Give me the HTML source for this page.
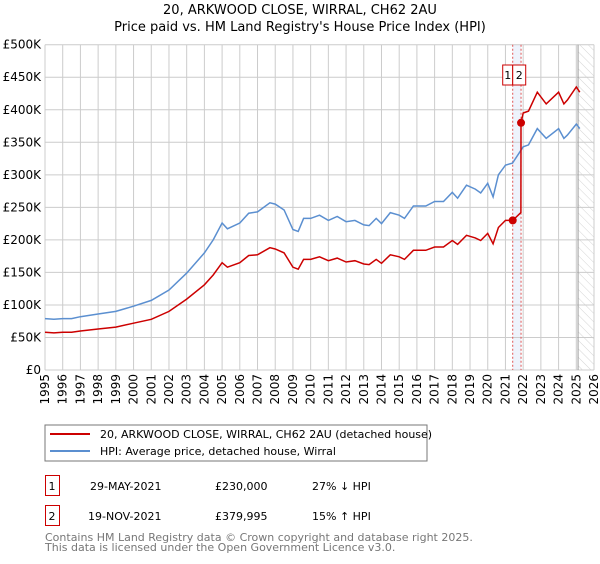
<!DOCTYPE html>
<html><head><meta charset="utf-8"><style>
body{margin:0;background:#fff;font-family:"DejaVu Sans","Liberation Sans",sans-serif;}
svg text{font-family:"DejaVu Sans","Liberation Sans",sans-serif;}
</style></head><body>
<svg id="c" width="600" height="560" viewBox="0 0 600 560" xmlns="http://www.w3.org/2000/svg">
<defs><pattern id="hatch" width="6" height="6" patternUnits="userSpaceOnUse" patternTransform="rotate(-45)"><line x1="0" y1="0" x2="0" y2="6" stroke="#d4d4d4" stroke-width="1"/></pattern></defs>
<text x="300" y="14" text-anchor="middle" font-size="13">20, ARKWOOD CLOSE, WIRRAL, CH62 2AU</text>
<text x="300" y="31" text-anchor="middle" font-size="13">Price paid vs. HM Land Registry's House Price Index (HPI)</text>
<g id="grid"></g><g id="series"></g>
<rect x="45" y="425" width="382" height="36" fill="none" stroke="#777"/>
<line x1="50" y1="434" x2="90" y2="434" stroke="#cc0000" stroke-width="2"/>
<text x="100" y="438" font-size="11">20, ARKWOOD CLOSE, WIRRAL, CH62 2AU (detached house)</text>
<line x1="50" y1="451" x2="90" y2="451" stroke="#5b8fd0" stroke-width="2"/>
<text x="100" y="455" font-size="11">HPI: Average price, detached house, Wirral</text>
<g>
<rect x="45.5" y="475.5" width="14" height="20" fill="none" stroke="#cc0000"/><text x="52" y="490" font-size="11" text-anchor="middle">1</text>
<text x="90" y="490" font-size="11">29-MAY-2021</text><text x="215" y="490" font-size="11">£230,000</text><text x="312" y="490" font-size="11">27% ↓ HPI</text></g>
<g>
<rect x="45.5" y="505.5" width="14" height="20" fill="none" stroke="#cc0000"/><text x="52" y="520" font-size="11" text-anchor="middle">2</text>
<text x="88" y="520" font-size="11">19-NOV-2021</text><text x="215" y="520" font-size="11">£379,995</text><text x="312" y="520" font-size="11">15% ↑ HPI</text></g>
<text x="45" y="541" font-size="11" fill="#777">Contains HM Land Registry data © Crown copyright and database right 2025.</text>
<text x="45" y="551" font-size="11" fill="#777">This data is licensed under the Open Government Licence v3.0.</text>
</svg>
<script>
const hpiYears=[1995,1995.5,1996,1996.5,1997,1998,1999,2000,2001,2002,2003,2004,2004.5,2005,2005.3,2006,2006.5,2007,2007.7,2008,2008.5,2009,2009.3,2009.6,2010,2010.5,2011,2011.5,2012,2012.5,2013,2013.3,2013.7,2014,2014.5,2015,2015.3,2015.8,2016.5,2017,2017.5,2018,2018.3,2018.8,2019.3,2019.6,2020,2020.3,2020.6,2021,2021.4,2022,2022.3,2022.8,2023.3,2024,2024.3,2024.5,2025,2025.2];
const hpiValues=[79,78,79,79,82,86,90,98,107,123,149,180,200,226,217,226,241,243,257,255,246,216,213,233,233,238,230,236,228,230,223,222,233,225,242,238,233,252,252,259,259,273,264,284,278,272,287,266,300,315,318,343,346,371,356,371,356,361,378,371];
const priceYears=[1995,1995.5,1996,1996.5,1997,1998,1999,2000,2001,2002,2003,2004,2004.5,2005,2005.3,2006,2006.5,2007,2007.7,2008,2008.5,2009,2009.3,2009.6,2010,2010.5,2011,2011.5,2012,2012.5,2013,2013.3,2013.7,2014,2014.5,2015,2015.3,2015.8,2016.5,2017,2017.5,2018,2018.3,2018.8,2019.3,2019.6,2020,2020.3,2020.6,2021,2021.41,2021.87,2021.88,2022,2022.3,2022.8,2023.3,2024,2024.3,2024.5,2025,2025.2];
const priceValues=[58,57,58,58,60,63,66,72,78,90,109,131,146,165,158,165,176,177,188,186,180,158,155,170,170,174,168,172,166,168,163,162,170,164,177,174,170,184,184,189,189,199,193,207,203,199,210,194,219,230,230,242,380,395,398,427,409,427,409,415,435,427];
const saleYears=[2021.41,2021.88];
const saleValues=[230,380];
const saleLabels=["1","2"];
const yTicks=[0,50,100,150,200,250,300,350,400,450,500];
const yTickLabels=["£0","£50K","£100K","£150K","£200K","£250K","£300K","£350K","£400K","£450K","£500K"];
const xTicks=[1995,1996,1997,1998,1999,2000,2001,2002,2003,2004,2005,2006,2007,2008,2009,2010,2011,2012,2013,2014,2015,2016,2017,2018,2019,2020,2021,2022,2023,2024,2025,2026];

const NS="http://www.w3.org/2000/svg";
const L=45,R=594,T=44.7,B=370,X0=1995,X1=2026,YMAX=500;
const xs=y=>L+(y-X0)/(X1-X0)*(R-L);
const ys=v=>B-v/YMAX*(B-T);
function mk(tag,attrs,parent){const e=document.createElementNS(NS,tag);for(const k in attrs)e.setAttribute(k,attrs[k]);parent.appendChild(e);return e;}
const g=document.getElementById('grid'),s=document.getElementById('series');
let band=mk('rect',{x:xs(saleYears[0]),y:T,width:xs(saleYears[1])-xs(saleYears[0]),height:B-T,fill:'#eef3fc'},g);


let hat=mk('rect',{x:xs(2025.1),y:T,width:R-xs(2025.1),height:B-T,fill:'url(#hatch)'},g);


yTicks.forEach((v,i)=>{
 let ln=mk('line',{x1:L,x2:R,y1:ys(v),y2:ys(v),stroke:'#ccc'},g);
 
 
 let t=mk('text',{x:L-4,y:ys(v)+4,'text-anchor':'end','font-size':'12'},g);
 t.textContent=yTickLabels[i];
 
 
});
xTicks.forEach(yr=>{
 let ln=mk('line',{x1:xs(yr),x2:xs(yr),y1:T,y2:B,stroke:'#ccc'},g);
 
 
 let t=mk('text',{x:0,y:0,'text-anchor':'end','font-size':'12',transform:`translate(${xs(yr)+4},${B+4}) rotate(-90)`},g);
 t.textContent=yr;
 
 
});
let nl=mk('line',{x1:xs(2025.1),x2:xs(2025.1),y1:T,y2:B,stroke:'#999','stroke-width':1},g);


saleYears.forEach(yr=>{
 let d=mk('line',{x1:xs(yr),x2:xs(yr),y1:T,y2:B,stroke:'#e05555','stroke-dasharray':'2,2'},g);
 
 
});
function path(xa,va){return xa.map((x,i)=>(i?'L':'M')+xs(x).toFixed(1)+','+ys(va[i]).toFixed(1)).join('');}
let hp=mk('path',{d:path(hpiYears,hpiValues),fill:'none',stroke:'#5b8fd0','stroke-width':1.5},s);


let pp=mk('path',{d:path(priceYears,priceValues),fill:'none',stroke:'#cc0000','stroke-width':1.5},s);


saleYears.forEach((yr,i)=>{
 let c=mk('circle',{cx:xs(yr),cy:ys(saleValues[i]),r:4,fill:'#cc0000'},s);
 
 
});
const bxs=[xs(saleYears[0])-10,xs(saleYears[0])];
const bws=[10,13];
saleLabels.forEach((lab,i)=>{
 let r=mk('rect',{x:bxs[i],y:65,width:bws[i],height:20,fill:'#fff',stroke:'#cc0000'},s);
 
 
 let t=mk('text',{x:bxs[i]+bws[i]/2,y:79,'text-anchor':'middle','font-size':'11'},s);
 t.textContent=lab;
 
 
});
</script>
</body></html>
